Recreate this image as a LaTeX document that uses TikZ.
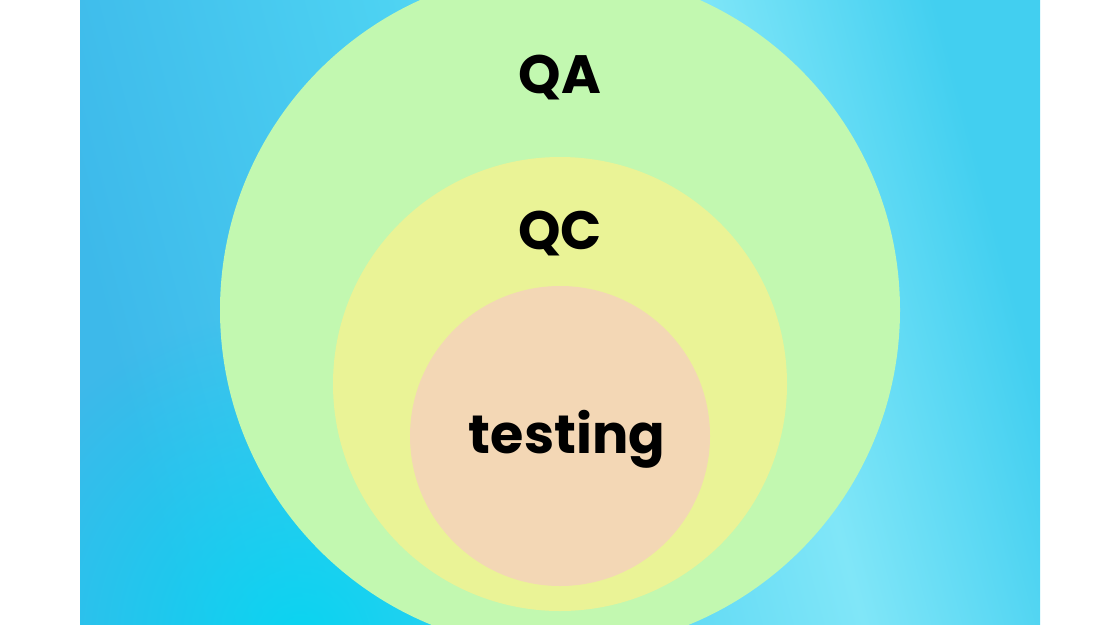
\documentclass[tikz,border=0pt]{standalone}
\usepackage{fontspec}
\setmainfont{Poppins}
\usepackage{tikz}
\usetikzlibrary{positioning}
\usetikzlibrary{fadings}
\definecolor{bgleft}{HTML}{3DB9EA}
\definecolor{bgmid}{HTML}{4DD2F2}
\definecolor{bglight}{HTML}{80E6F8}
\definecolor{bgright}{HTML}{42CFF0}
\definecolor{bgcyan}{HTML}{00D8F2}
\definecolor{qagreen}{HTML}{C2F8B0}
\definecolor{qcyellow}{HTML}{EAF396}
\definecolor{testpeach}{HTML}{F3D7B5}
\pgfdeclarehorizontalshading{bgshade}{100bp}{color(0bp)=(bgleft); color(25bp)=(bgleft); color(45bp)=(bgmid); color(62bp)=(bglight); color(75bp)=(bgright); color(100bp)=(bgright)}
\tikzfading[name=spotfade, inner color=transparent!15, outer color=transparent!100]
\tikzset{
  ring/.style={circle, draw=none, inner sep=0pt, outer sep=0pt},
  word/.style={anchor=base, font=\fontsize{54}{60}\selectfont\bfseries, text=black}
}

\begin{document}
\begin{tikzpicture}[x=1pt, y=-1pt]
    \useasboundingbox (0, 0) rectangle (1110, 624);
    \begin{scope}
        \clip (80, 0) rectangle (1040, 624);
        \shade[shading=bgshade, shading angle=15] (80, 0) rectangle (1040, 624);
        \fill[bgcyan, path fading=spotfade] (300, 640) circle (330);
        % nested circles
        \node[ring, fill=qagreen, minimum size=680pt] (qa) at (560, 310) {};
        \node[ring, fill=qcyellow, minimum size=454pt] (qc) at (560, 384) {};
        \node[ring, fill=testpeach, minimum size=300pt] (testing) at (560, 436) {};
    \end{scope}

    \node[word] (qalabel) at (560, 93) {QA};
    \node[word] (qclabel) at (560, 249) {QC};
    \node[word] (testlabel) at (567, 453) {testing};
\end{tikzpicture}
\end{document}
